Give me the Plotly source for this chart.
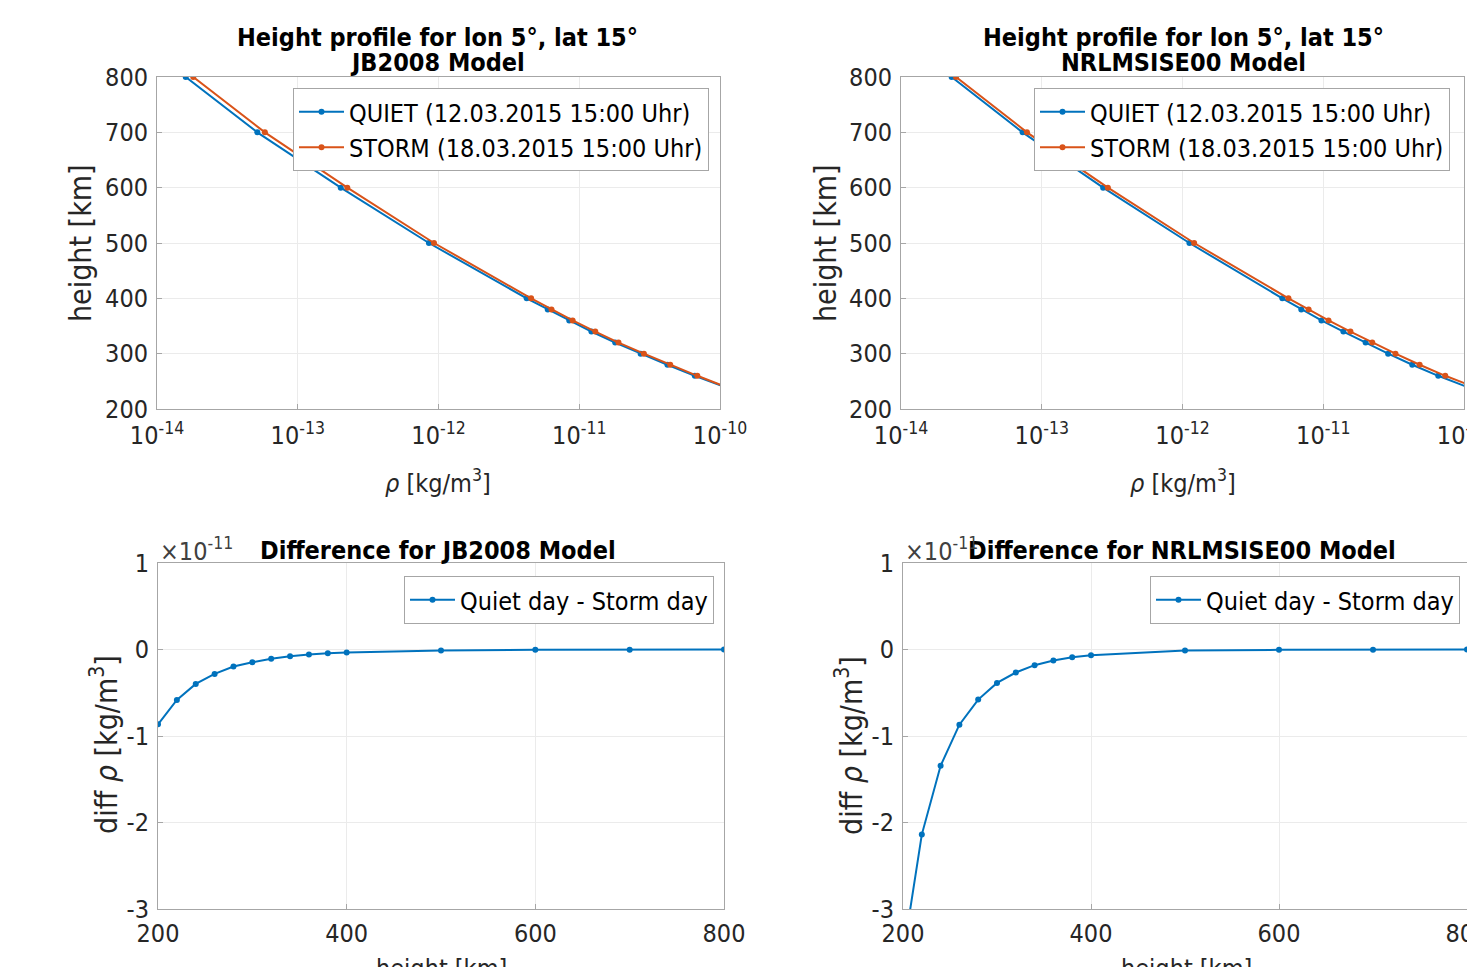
import plotly.graph_objects as go

W, H = 1467, 967

# ---------------- data ----------------
heights_profile = [800, 700, 600, 500, 400, 380, 360, 340, 320, 300, 280, 260, 240, 220, 200]

jb_quiet = [1.60e-14, 5.16e-14, 2.02e-13, 8.55e-13, 4.23e-12, 5.97e-12, 8.49e-12, 1.22e-11,
            1.80e-11, 2.73e-11, 4.23e-11, 6.62e-11, 1.06e-10, 1.75e-10, 2.90e-10]
jb_storm = [1.81e-14, 5.84e-14, 2.25e-13, 9.29e-13, 4.55e-12, 6.35e-12, 8.97e-12, 1.30e-11,
            1.90e-11, 2.88e-11, 4.43e-11, 6.90e-11, 1.10e-10, 1.81e-10, 2.99e-10]

nrl_quiet = [2.29e-14, 7.31e-14, 2.73e-13, 1.12e-12, 5.12e-12, 6.98e-12, 9.71e-12, 1.39e-11,
             2.00e-11, 2.89e-11, 4.29e-11, 6.56e-11, 1.05e-10, 1.72e-10, 2.90e-10]
nrl_storm = [2.46e-14, 7.85e-14, 2.95e-13, 1.21e-12, 5.66e-12, 7.87e-12, 1.09e-11, 1.56e-11,
             2.23e-11, 3.26e-11, 4.84e-11, 7.36e-11, 1.18e-10, 1.93e-10, 3.25e-10]

heights_diff = [200, 220, 240, 260, 280, 300, 320, 340, 360, 380, 400, 500, 600, 700, 800]
# difference (quiet - storm) in units of 1e-11 kg/m^3
jb_diff = [-0.865, -0.583, -0.398, -0.282, -0.197, -0.147, -0.108, -0.077, -0.058, -0.042,
           -0.035, -0.012, -0.004, -0.002, -0.001]
nrl_diff = [-3.54, -2.14, -1.344, -0.869, -0.579, -0.386, -0.266, -0.181, -0.127, -0.089,
            -0.066, -0.012, -0.004, -0.002, 0.0]

log_tickvals = [1e-14, 1e-13, 1e-12, 1e-11, 1e-10]
log_ticktext = ["10<sup>-14</sup>", "10<sup>-13</sup>", "10<sup>-12</sup>", "10<sup>-11</sup>", "10<sup>-10</sup>"]
height_ticks = [200, 300, 400, 500, 600, 700, 800]
diff_x_ticks = [200, 400, 600, 800]
diff_y_ticks = [-3, -2, -1, 0, 1]
diff_y_text = ["-3", "-2", "-1", "0", "1"]

BLUE = "#0072BD"
ORANGE = "#D95319"
FONT = "DejaVu Sans Condensed, DejaVu Sans"
TXT = "#262626"
FS = 25
FS_ROT = 30


def px_x(p):
    return p / W


def px_y(p):
    return 1 - p / H


fig = go.Figure()


def add_line(x, y, name, color, xa, ya, legend):
    fig.add_trace(go.Scatter(
        x=x, y=y, name=name, mode="lines+markers",
        line=dict(color=color, width=2),
        marker=dict(color=color, size=6),
        xaxis=xa, yaxis=ya, legend=legend, showlegend=True))


add_line(jb_quiet, heights_profile, "QUIET (12.03.2015 15:00 Uhr)", BLUE, "x", "y", "legend")
add_line(jb_storm, heights_profile, "STORM (18.03.2015 15:00 Uhr)", ORANGE, "x", "y", "legend")
add_line(nrl_quiet, heights_profile, "QUIET (12.03.2015 15:00 Uhr)", BLUE, "x2", "y2", "legend2")
add_line(nrl_storm, heights_profile, "STORM (18.03.2015 15:00 Uhr)", ORANGE, "x2", "y2", "legend2")
add_line(heights_diff, jb_diff, "Quiet day - Storm day", BLUE, "x3", "y3", "legend3")
add_line(heights_diff, nrl_diff, "Quiet day - Storm day", BLUE, "x4", "y4", "legend4")

axis_common = dict(
    showline=True, mirror=True, linecolor="#a6a6a6", linewidth=1,
    showgrid=True, gridcolor="#ebebeb", gridwidth=1,
    ticks="inside", ticklen=5, tickcolor="#a6a6a6",
    tickfont=dict(family=FONT, size=FS, color=TXT),
    zeroline=False, automargin=False,
)

dom_tl_x = [px_x(157), px_x(720)]
dom_tr_x = [px_x(901), px_x(1464)]
dom_top_y = [px_y(409), px_y(77)]
dom_bl_x = [px_x(158), px_x(724)]
dom_br_x = [px_x(903), 1.0]
dom_bot_y = [px_y(909), px_y(563)]

logx = dict(type="log", range=[-14, -10], tickvals=log_tickvals, ticktext=log_ticktext,
            ticklabelstandoff=4, ticklabeloverflow="allow", **axis_common)
topy = dict(range=[200, 800], tickvals=height_ticks, ticklabelstandoff=3, **axis_common)
botx = dict(range=[200, 800], tickvals=diff_x_ticks, ticklabelstandoff=2,
            ticklabeloverflow="allow", **axis_common)
boty = dict(range=[-3, 1], tickvals=diff_y_ticks, ticktext=diff_y_text,
            ticklabelstandoff=3, **axis_common)

fig.update_layout(
    width=W, height=H,
    margin=dict(l=0, r=0, t=0, b=0, pad=0, autoexpand=False),
    paper_bgcolor="white", plot_bgcolor="white",
    font=dict(family=FONT, size=FS, color=TXT),
    xaxis=dict(domain=dom_tl_x, anchor="y", **logx),
    yaxis=dict(domain=dom_top_y, anchor="x", **topy),
    xaxis2=dict(domain=dom_tr_x, anchor="y2", **logx),
    yaxis2=dict(domain=dom_top_y, anchor="x2", **topy),
    xaxis3=dict(domain=dom_bl_x, anchor="y3", **botx),
    yaxis3=dict(domain=dom_bot_y, anchor="x3", **boty),
    xaxis4=dict(domain=dom_br_x, anchor="y4", **botx),
    yaxis4=dict(domain=dom_bot_y, anchor="x4", **boty),
)

legend_common = dict(bgcolor="white", bordercolor="#a6a6a6", borderwidth=1,
                     font=dict(family=FONT, size=FS, color="#000000"),
                     xanchor="right", yanchor="top", itemwidth=45,
                     tracegroupgap=0)
fig.update_layout(
    legend=dict(x=px_x(709), y=px_y(88), **legend_common),
    legend2=dict(x=px_x(1450), y=px_y(88), **legend_common),
    legend3=dict(x=px_x(714), y=px_y(576), **legend_common),
    legend4=dict(x=px_x(1460), y=px_y(576), **legend_common),
)

annots = []


def ann(text, x, y, size=FS, color=TXT, angle=0, xanchor="center", yanchor="middle"):
    annots.append(dict(text=text, x=px_x(x), y=px_y(y), xref="paper", yref="paper",
                       showarrow=False, textangle=angle, xanchor=xanchor, yanchor=yanchor,
                       font=dict(family=FONT, size=size, color=color)))


# titles
ann("<b>Height profile for lon 5°, lat 15°</b>", 438, 37, color="#000000")
ann("<b>JB2008 Model</b>", 438, 63, color="#000000")
ann("<b>Height profile for lon 5°, lat 15°</b>", 1183, 37, color="#000000")
ann("<b>NRLMSISE00 Model</b>", 1183, 63, color="#000000")
ann("<b>Difference for JB2008 Model</b>", 438, 550, color="#000000")
ann("<b>Difference for NRLMSISE00 Model</b>", 1182, 550, color="#000000")

# axis titles
ann("height [km]", 80, 243, size=FS_ROT, angle=-90)
ann("height [km]", 825, 243, size=FS_ROT, angle=-90)
ann("<i>ρ</i> [kg/m<sup>3</sup>]", 438, 481)
ann("<i>ρ</i> [kg/m<sup>3</sup>]", 1183, 481)
ann("diff <i>ρ</i> [kg/m<sup>3</sup>]", 104, 745, size=FS_ROT, angle=-90)
ann("diff <i>ρ</i> [kg/m<sup>3</sup>]", 849, 745, size=FS_ROT, angle=-90)
ann("height [km]", 441, 968)
ann("height [km]", 1186, 968)

# exponent labels
ann("×10<sup>-11</sup>", 158, 549, color="#404040", xanchor="left")
ann("×10<sup>-11</sup>", 903, 549, color="#404040", xanchor="left")

fig.update_layout(annotations=annots)

# remove the default page margin so the figure fills the window exactly
page_js = "document.body.style.margin='0';document.body.style.overflow='hidden';"
fig.write_html("out.html", post_script=page_js, config={"displayModeBar": False})
